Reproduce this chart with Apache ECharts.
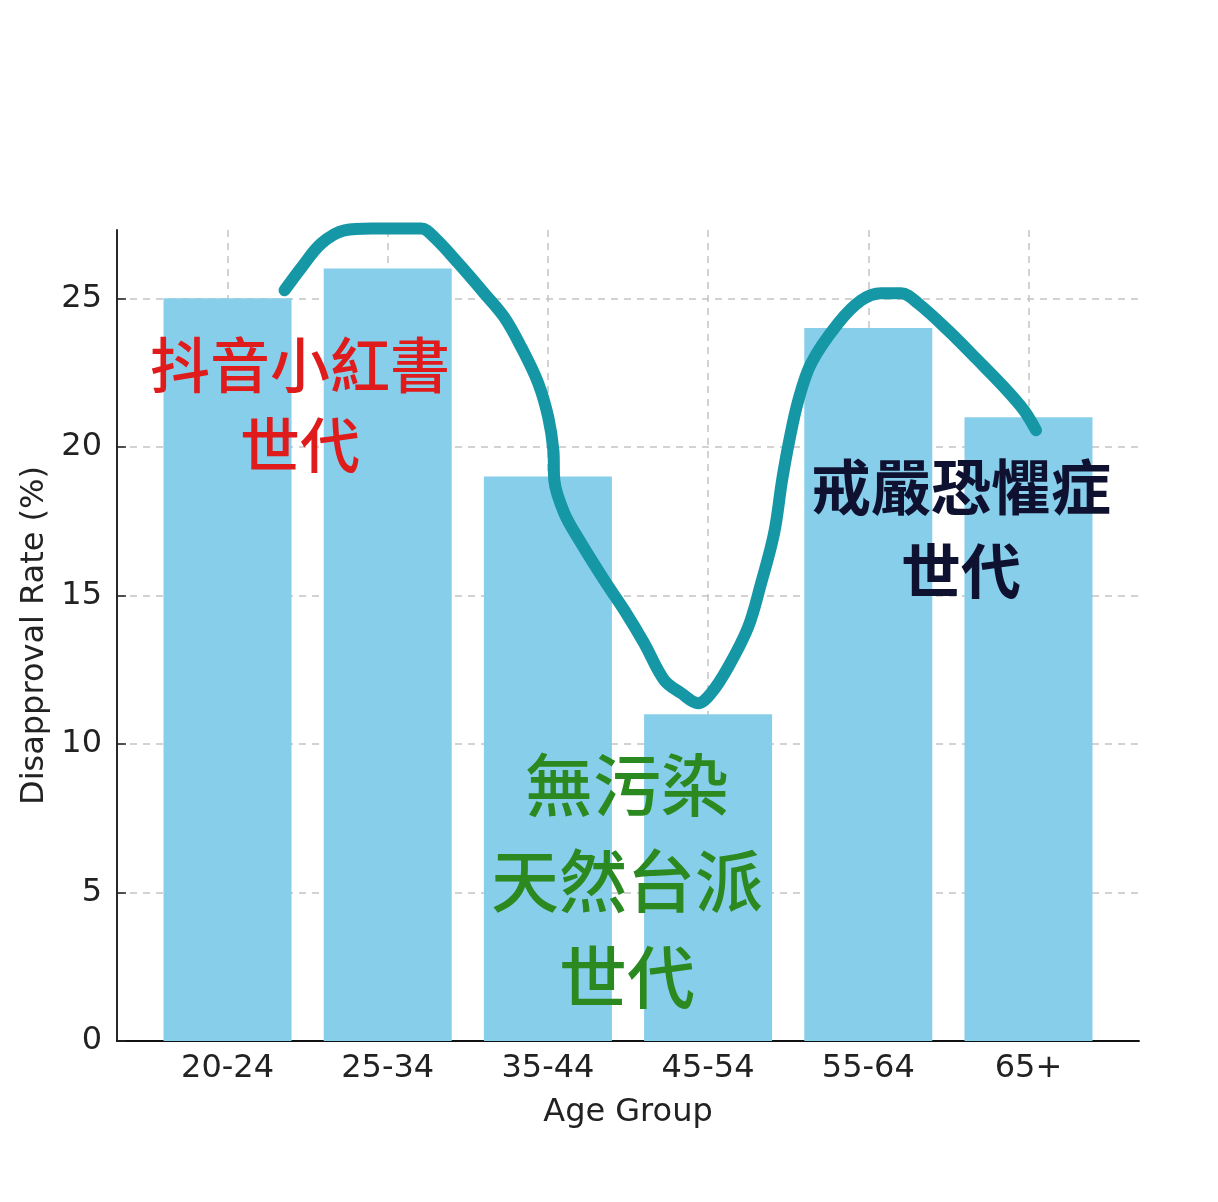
<!DOCTYPE html>
<html>
<head>
<meta charset="utf-8">
<script src="https://cdn.jsdelivr.net/npm/echarts@6/dist/echarts.min.js"></script>
<style>
html,body{margin:0;padding:0;background:#fff;}
#chart{width:1218px;height:1202px;}
</style>
</head>
<body>
<div id="chart"></div>
<script>
const categories = ['20-24', '25-34', '35-44', '45-54', '55-64', '65+'];
const disapproval = [25, 26, 19, 11, 24, 21];
const yTicks = [0, 5, 10, 15, 20, 25];
const xTickIdx = [0, 1, 2, 3, 4, 5];

// hand-drawn overlay curve (x in category units, y in %)
const curveX = [0.356, 0.462, 0.586, 0.730, 0.898, 1.210, 1.291, 1.441, 1.603, 1.728, 1.834, 1.940, 2.002, 2.034, 2.040, 2.102, 2.196, 2.352, 2.477, 2.601, 2.726, 2.832, 2.938, 3.019, 3.125, 3.250, 3.331, 3.412, 3.462, 3.506, 3.562, 3.643, 3.812, 3.955, 4.080, 4.205, 4.311, 4.498, 4.685, 4.847, 4.972, 5.047];
const curveY = [25.27, 26.04, 26.85, 27.29, 27.35, 27.35, 27.05, 26.18, 25.17, 24.36, 23.35, 22.14, 21.00, 19.89, 18.88, 17.77, 16.86, 15.51, 14.50, 13.39, 12.15, 11.71, 11.37, 11.71, 12.58, 13.93, 15.41, 17.09, 18.88, 20.19, 21.54, 22.81, 24.16, 24.93, 25.17, 25.17, 24.83, 23.92, 22.91, 22.01, 21.23, 20.56];

const redText = ['抖音小紅書', '世代'];
const navyText = ['戒嚴恐懼症', '世代'];
const greenText = ['無污染', '天然台派', '世代'];

const xName = 'Age Group';
const yName = 'Disapproval Rate (%)';

const chart = echarts.init(document.getElementById('chart'), null, {renderer: 'canvas'});

const axisFont = 'DejaVu Sans';
const cjkFont = '"Noto Sans CJK TC", "Noto Sans CJK SC", sans-serif';

function textLines(lines, cx, cy0, gap, color, size, weight) {
  return lines.map((t, i) => ({
    type: 'text',
    x: cx,
    y: cy0 + i * gap,
    z: 100,
    style: {
      text: t,
      fill: color,
      font: weight + ' ' + size + 'px ' + cjkFont,
      align: 'center',
      verticalAlign: 'middle'
    }
  }));
}

const option = {
  backgroundColor: '#ffffff',
  animation: false,
  grid: {left: 117, right: 79, top: 230, bottom: 161, containLabel: false, outerBoundsMode: 'none'},
  xAxis: {
    type: 'value',
    min: -0.69,
    max: 5.69,
    name: xName,
    nameLocation: 'middle',
    nameGap: 56,
    nameTextStyle: {fontFamily: axisFont, fontSize: 32, color: '#222'},
    axisLine: {show: true, onZero: false, lineStyle: {color: '#111', width: 1.8}},
    axisTick: {show: true, inside: true, length: 9, customValues: xTickIdx, lineStyle: {color: '#222', width: 1.5}},
    axisLabel: {
      show: true,
      customValues: xTickIdx,
      margin: 12,
      fontFamily: axisFont,
      fontSize: 32,
      color: '#222',
      formatter: v => categories[Math.round(v)]
    },
    splitLine: {show: true, lineStyle: {color: '#c4c4c4', width: 1.5, type: [7, 6]}}
  },
  yAxis: {
    type: 'value',
    min: 0,
    max: 27.3,
    interval: 5,
    name: yName,
    nameLocation: 'middle',
    nameGap: 64,
    nameTextStyle: {fontFamily: axisFont, fontSize: 32, color: '#222'},
    axisLine: {show: true, onZero: false, lineStyle: {color: '#111', width: 1.8}},
    axisTick: {show: true, inside: true, length: 9, customValues: yTicks, lineStyle: {color: '#222', width: 1.5}},
    axisLabel: {
      show: true,
      customValues: yTicks,
      margin: 15,
      fontFamily: axisFont,
      fontSize: 32,
      color: '#222'
    },
    splitLine: {show: true, lineStyle: {color: '#c4c4c4', width: 1.5, type: [7, 6]}}
  },
  series: [
    {
      type: 'bar',
      barWidth: 128,
      itemStyle: {color: '#87CEEB'},
      data: disapproval.map((v, i) => [i, v]),
      z: 2
    },
    {
      type: 'line',
      smooth: 0.35,
      clip: false,
      showSymbol: false,
      symbol: 'none',
      lineStyle: {color: '#1697A5', width: 12, cap: 'round', join: 'round'},
      data: curveX.map((x, i) => [x, curveY[i]]),
      z: 5
    }
  ],
  graphic: [
    ...textLines(redText, 300, 365, 80, '#E01B1B', 60, '500'),
    ...textLines(navyText, 961, 487, 84, '#0E1230', 60, 'bold'),
    ...textLines(greenText, 627, 785, 96, '#2A8A20', 68, '500')
  ]
};

chart.setOption(option);
</script>
</body>
</html>
